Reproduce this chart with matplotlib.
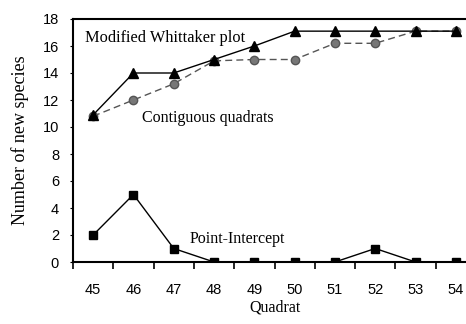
import numpy as np
import matplotlib.pyplot as plt

quadrat = [45, 46, 47, 48, 49, 50, 51, 52, 53, 54]
whittaker = [10.9, 14, 14, 15, 16, 17.1, 17.1, 17.1, 17.1, 17.1]
contiguous = [10.8, 12, 13.2, 14.9, 15, 15, 16.2, 16.2, 17.1, 17.1]
point_intercept = [2, 5, 1, 0, 0, 0, 0, 1, 0, 0]

fig = plt.figure(figsize=(4.66, 3.24), dpi=100)
ax = fig.add_axes([73 / 466, (324 - 262) / 324, 403 / 466, 243 / 324])

x = np.array(quadrat)
ax.plot(x, whittaker, color='black', lw=1, marker='^', ms=7, zorder=3)
ax.plot(x, contiguous, color='#555555', lw=1, ls=(0, (5, 3)), marker='o', ms=6,
        mfc='#777777', mec='#555555', zorder=2)
ax.plot(x, point_intercept, color='black', lw=1, marker='s', ms=6, zorder=3)

ax.set_xlim(44.5, 54.5)
ax.set_ylim(0, 18)
ax.set_yticks(range(0, 19, 2))
ax.set_xticks(x)
ax.set_xticks(np.arange(44.5, 55, 1), minor=True)
ax.tick_params(axis='x', which='major', length=0, pad=15)
ax.tick_params(axis='x', which='minor', length=5, width=1.2, direction='out')
ax.tick_params(axis='y', length=2, direction='out', pad=8)
for lab in ax.get_xticklabels() + ax.get_yticklabels():
    lab.set_fontfamily('Liberation Sans')
    lab.set_fontsize(10.5)

ax.spines['right'].set_visible(False)
ax.spines['top'].set_linewidth(1.5)
ax.spines['left'].set_linewidth(1.5)
ax.spines['bottom'].set_linewidth(1.5)

serif = 'Liberation Serif'
ax.set_ylabel('Number of new species', family=serif, fontsize=13, labelpad=10)
ax.set_xlabel('Quadrat', family=serif, fontsize=11.5, labelpad=2)
ax.text(44.8, 16.3, 'Modified Whittaker plot', family=serif, fontsize=11.8)
ax.text(46.2, 10.4, 'Contiguous quadrats', family=serif, fontsize=11.5)
ax.text(47.4, 1.4, 'Point-Intercept', family=serif, fontsize=11.5)

fig.savefig('out.png', dpi=100)
